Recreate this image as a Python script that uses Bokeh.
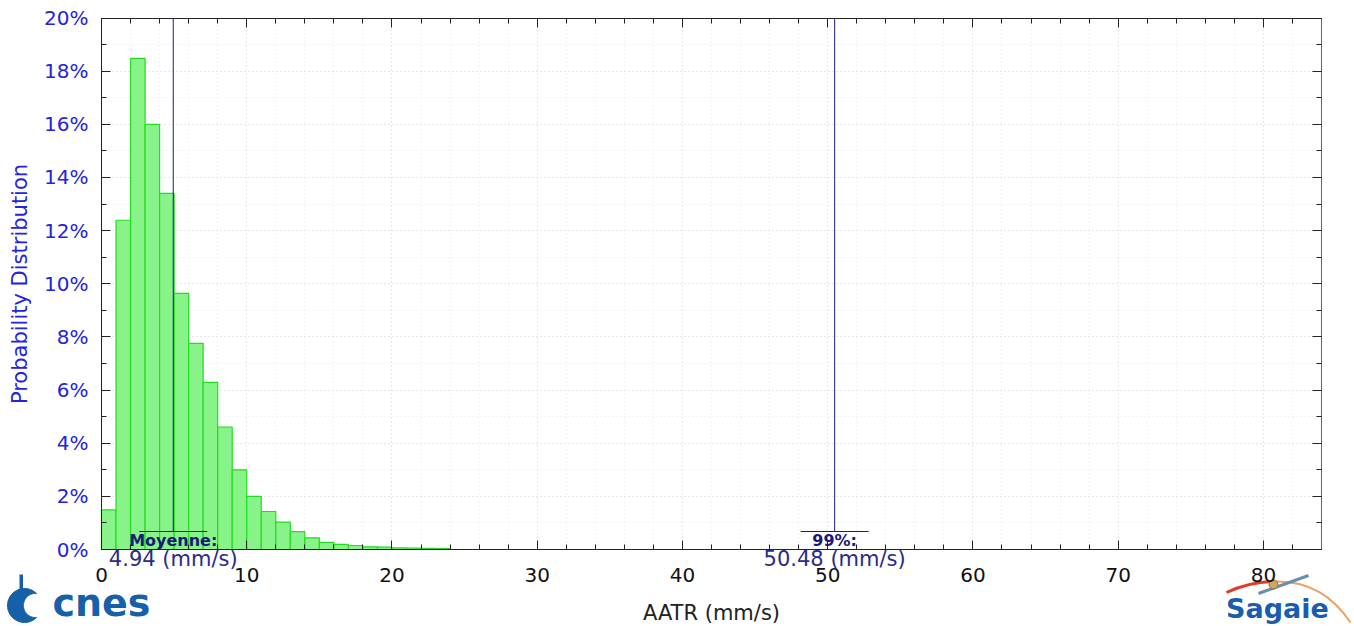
import numpy as np
from bokeh.plotting import figure
from bokeh.models import (LinearAxis, SingleIntervalTicker, PrintfTickFormatter, Label,
                          Range1d, BoxAnnotation, ColumnDataSource, CustomJSTickFormatter)
from bokeh.embed import file_html
from bokeh.resources import INLINE

# ---------------- data ----------------
bin_left = list(range(24))
probability = [1.49, 12.39, 18.48, 16.0, 13.40, 9.64, 7.76, 6.29, 4.61, 3.00,
               2.00, 1.43, 1.03, 0.67, 0.44, 0.27, 0.19, 0.15, 0.10, 0.09,
               0.06, 0.05, 0.04, 0.03]
bin_width = 1.0
stat_values = [4.94, 50.48]
stat_names = ["Moyenne:", "99%:"]
stat_texts = ["4.94 (mm/s)", "50.48 (mm/s)"]
x_label = "AATR (mm/s)"
y_label = "Probability Distribution"
x_min, x_max = 0, 84
y_min, y_max = 0, 20

# ---------------- layout constants (page pixels) ----------------
W, H = 1354, 626
F_LEFT, F_RIGHT, F_TOP, F_BOTTOM = 101, 1321, 17.5, 549
sx = (F_RIGHT - F_LEFT) / (x_max - x_min)
sy = (F_BOTTOM - F_TOP) / (y_max - y_min)

def px2x(px):
    return x_min + (px - F_LEFT) / sx

def py2y(py):
    return y_min + (F_BOTTOM - py) / sy

FONT = "DejaVu Sans"
BLUE = "#2323e0"
NAVY = "#1c1c78"

p = figure(width=W, height=H, output_backend="svg", toolbar_location=None,
           x_range=Range1d(px2x(0), px2x(W)), y_range=Range1d(py2y(H), py2y(0)),
           min_border=0, background_fill_color="white", border_fill_color="white")
p.outline_line_color = None

# grid (dotted, very light), masked outside the plotting area
for g in (p.xgrid[0], p.ygrid[0]):
    g.grid_line_color = "#dcdcdc"
    g.grid_line_dash = "1 3"
    g.minor_grid_line_color = "#e6e6e6"
    g.minor_grid_line_dash = "1 3"
for kw in (dict(top=y_min), dict(bottom=y_max), dict(right=x_min), dict(left=x_max)):
    p.add_layout(BoxAnnotation(fill_color="white", fill_alpha=1, line_alpha=0,
                               level="underlay", **kw))

src = ColumnDataSource(dict(left=bin_left,
                            right=[b + bin_width for b in bin_left],
                            top=probability))
p.quad(left="left", right="right", bottom=0, top="top", source=src,
       fill_color="#88f388", line_color="#22dd22", line_width=1.2)

xt = SingleIntervalTicker(interval=10, num_minor_ticks=5)
yt = SingleIntervalTicker(interval=2, num_minor_ticks=2)
blank = CustomJSTickFormatter(code="return ''")

def style_axis(ax, ticker, loc, bounds, show_labels):
    ax.ticker = ticker
    ax.fixed_location = loc
    ax.bounds = bounds
    ax.axis_line_color = "#222222"
    ax.major_tick_in = 9
    ax.major_tick_out = 0
    ax.minor_tick_in = 5
    ax.minor_tick_out = 0
    ax.major_tick_line_color = "#222222"
    ax.minor_tick_line_color = "#222222"
    if not show_labels:
        ax.formatter = blank
        ax.major_label_standoff = 0

xa = p.xaxis[0]
style_axis(xa, xt, y_min, (x_min, x_max), True)
xa.major_label_text_font = FONT
xa.major_label_text_font_size = "20px"
xa.major_label_text_color = "#111111"
xa.major_label_standoff = 18
xa.axis_label = x_label
xa.axis_label_text_font = FONT
xa.axis_label_text_font_size = "21px"
xa.axis_label_text_font_style = "normal"
xa.axis_label_text_color = "#222222"
xa.axis_label_standoff = 16

ya = p.yaxis[0]
style_axis(ya, yt, x_min, (y_min, y_max), True)
ya.formatter = PrintfTickFormatter(format="%d%%")
ya.major_label_text_font = FONT
ya.major_label_text_font_size = "20px"
ya.major_label_text_color = BLUE
ya.major_label_standoff = 13
ya.axis_label = y_label
ya.axis_label_text_font = FONT
ya.axis_label_text_font_size = "21px"
ya.axis_label_text_font_style = "normal"
ya.axis_label_text_color = BLUE
ya.axis_label_standoff = 9

top_ax = LinearAxis()
style_axis(top_ax, xt, y_max, (x_min, x_max), False)
p.add_layout(top_ax, "above")
right_ax = LinearAxis()
style_axis(right_ax, yt, x_max, (y_min, y_max), False)
right_ax.axis_line_color = "#666666"
p.add_layout(right_ax, "right")

# statistic markers
half = 34 / sx
seg_y = py2y(531)
for val, name, txt in zip(stat_values, stat_names, stat_texts):
    p.segment(x0=[val], y0=[seg_y], x1=[val], y1=[y_max], line_color=NAVY, line_width=1)
    p.segment(x0=[val - half], y0=[seg_y], x1=[val + half], y1=[seg_y],
              line_color=NAVY, line_width=1)
    p.add_layout(Label(x=val, y=py2y(540), text=name, text_align="center",
                       text_baseline="middle", text_font=FONT, text_font_size="16px",
                       text_font_style="bold", text_color="#1a1a78"))
    p.add_layout(Label(x=val, y=py2y(558.5), text=txt, text_align="center",
                       text_baseline="middle", text_font=FONT, text_font_size="21px",
                       text_color="#2a2a8c"))

# ---- logos (decoration) ----
LOGO_BLUE = "#1560a8"
cx, cy, R = 24, 605, 17
ang = np.radians(np.linspace(45, 315, 60))
ox = cx + R * np.cos(ang)
oy = cy - R * np.sin(ang)
ptx, pty = cx + R * np.cos(np.radians(45)), cy - R * np.sin(np.radians(45))
icx = cx + 11
r2 = np.hypot(ptx - icx, pty - cy)
a0 = np.arctan2(-(pty - cy), ptx - icx)
ang2 = np.linspace(2 * np.pi - a0, a0, 60)
ix = icx + r2 * np.cos(ang2)
iy = cy - r2 * np.sin(ang2)
p.patch(x=[px2x(v) for v in np.concatenate([ox, ix])],
        y=[py2y(v) for v in np.concatenate([oy, iy])],
        fill_color=LOGO_BLUE, line_color=LOGO_BLUE)
p.quad(left=[px2x(19)], right=[px2x(22.5)], top=[py2y(574)], bottom=[py2y(596)],
       fill_color=LOGO_BLUE, line_alpha=0)
p.add_layout(Label(x=px2x(52), y=py2y(602), text="cnes", text_font=FONT,
                   text_font_size="38px", text_font_style="bold", text_color=LOGO_BLUE,
                   text_baseline="middle"))

# Sagaie logo
p.quadratic(x0=[px2x(1226)], y0=[py2y(592)], x1=[px2x(1275)], y1=[py2y(581)],
            cx=[px2x(1250)], cy=[py2y(581)], line_color="#e03a2a", line_width=3)
p.quadratic(x0=[px2x(1275)], y0=[py2y(581)], x1=[px2x(1350)], y1=[py2y(622)],
            cx=[px2x(1322)], cy=[py2y(580)], line_color="#eea060", line_width=2)
p.segment(x0=[px2x(1258)], y0=[py2y(593)], x1=[px2x(1308)], y1=[py2y(575)],
          line_color="#6a8fa8", line_width=3)
p.scatter(x=[px2x(1273)], y=[py2y(584)], size=9, fill_color="#c8a868",
          line_color="#8a7040")
p.add_layout(Label(x=px2x(1277), y=py2y(608), text="Sagaie", text_font=FONT,
                   text_font_size="27px", text_font_style="bold", text_color="#1a5cb0",
                   text_align="center", text_baseline="middle"))

open("out.html", "w").write(file_html(p, INLINE))
